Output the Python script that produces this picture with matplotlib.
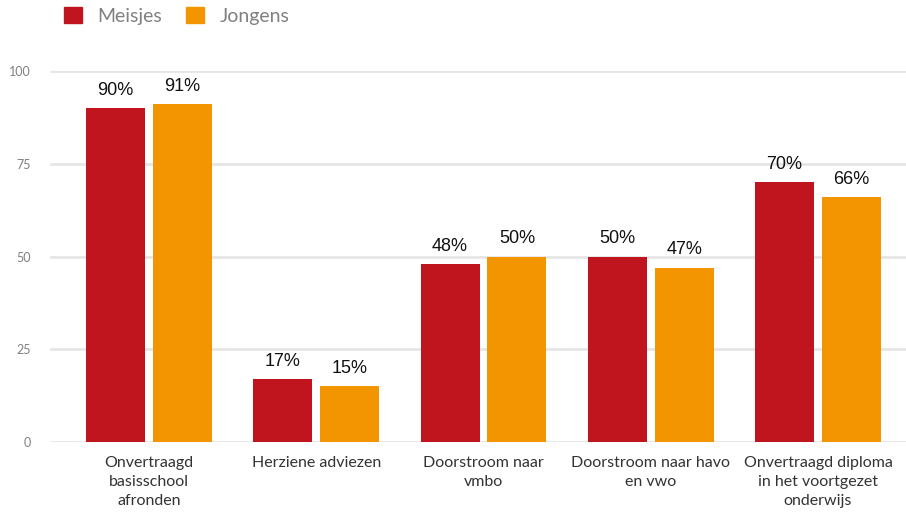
import matplotlib
matplotlib.use("Agg")
import matplotlib.pyplot as plt
from matplotlib.patches import Patch
import numpy as np

categories = ["Onvertraagd\nbasisschool\nafronden", "Herziene adviezen",
              "Doorstroom naar\nvmbo", "Doorstroom naar havo\nen vwo",
              "Onvertraagd diploma\nin het voortgezet\nonderwijs"]
meisjes = [90, 17, 48, 50, 70]
jongens = [91, 15, 50, 47, 66]
series_names = ["Meisjes", "Jongens"]
colors = ["#C0151F", "#F39500"]
yticks = [0, 25, 50, 75, 100]

plt.rcParams['font.family'] = ['Lato', 'DejaVu Sans']

fig = plt.figure(figsize=(9.06, 5.14), dpi=100)
ax = fig.add_axes([50/906, (514-442)/514, 1 - 50/906, (442-71)/514])

x = np.arange(len(categories))
w = 0.353
off = 0.2
for vals, name, c, d in [(meisjes, series_names[0], colors[0], -off),
                         (jongens, series_names[1], colors[1], off)]:
    bars = ax.bar(x + d, vals, width=w, color=c, label=name, zorder=3)
    for b, v in zip(bars, vals):
        ax.text(b.get_x() + b.get_width()/2, v + 2.5, f"{v}%", ha="center", va="bottom",
                fontsize=13, family="Liberation Sans", color="#111111", clip_on=False)

ax.set_xlim(-0.592, 4.526)
ax.set_ylim(0, 100)
ax.set_yticks(yticks)
ax.set_yticklabels([str(t) for t in yticks])
ax.set_xticks(x)
ax.set_xticklabels(categories, fontsize=11.5, color="#333333", linespacing=1.45)
ax.grid(axis="y", color="#e6e6e6", linewidth=2, zorder=0)
ax.tick_params(axis="both", length=0)
ax.tick_params(axis="y", labelsize=9, labelcolor="#808080", pad=14)
ax.tick_params(axis="x", pad=10)
for s in ax.spines.values():
    s.set_visible(False)

handles = [Patch(color=colors[0]), Patch(color=colors[1])]
fig.legend(handles, series_names, loc="upper left", bbox_to_anchor=(52/906, 1.01),
           ncol=2, frameon=False, fontsize=14, labelcolor="#808080",
           handlelength=0.95, handleheight=0.95, handletextpad=0.8, columnspacing=1.2,
           borderaxespad=0.2)

fig.savefig("out.png", dpi=100)
